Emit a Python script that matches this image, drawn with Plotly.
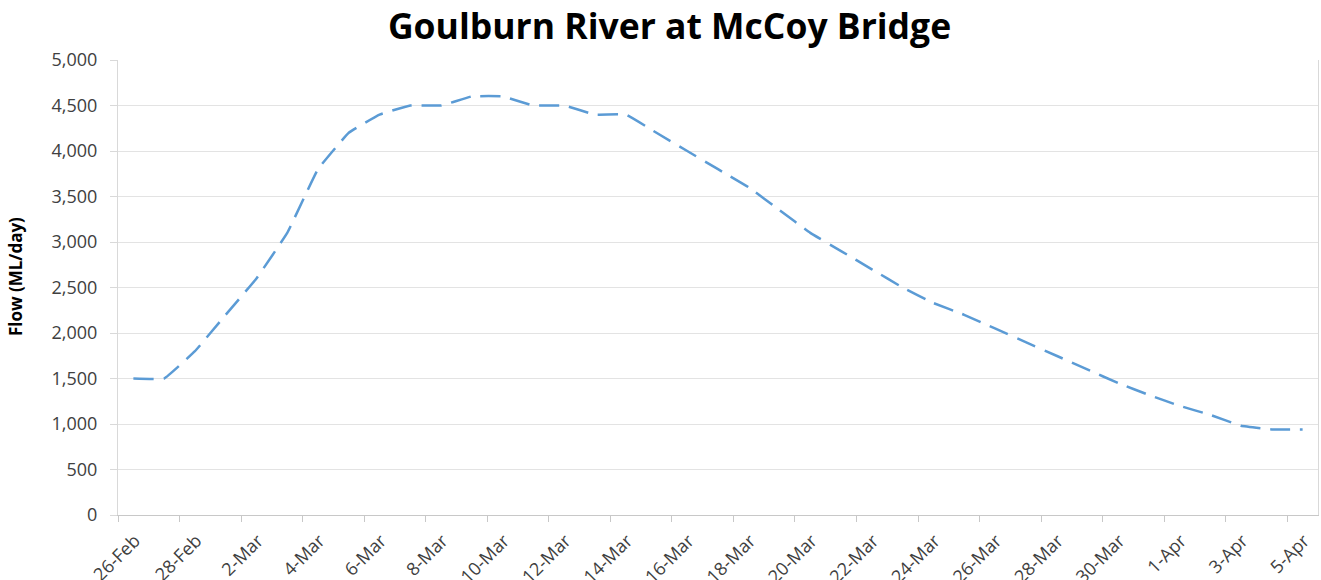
import plotly.graph_objects as go

# Daily categories (26-Feb .. 5-Apr)
dates = ["26-Feb", "27-Feb", "28-Feb",
         "1-Mar", "2-Mar", "3-Mar", "4-Mar", "5-Mar", "6-Mar", "7-Mar", "8-Mar", "9-Mar", "10-Mar",
         "11-Mar", "12-Mar", "13-Mar", "14-Mar", "15-Mar", "16-Mar", "17-Mar", "18-Mar", "19-Mar", "20-Mar",
         "21-Mar", "22-Mar", "23-Mar", "24-Mar", "25-Mar", "26-Mar", "27-Mar", "28-Mar", "29-Mar", "30-Mar",
         "31-Mar", "1-Apr", "2-Apr", "3-Apr", "4-Apr", "5-Apr"]

flow = [1500, 1500, 1800, 2200, 2600, 3100, 3800, 4200, 4400, 4500,
        4500, 4600, 4600, 4500, 4500, 4400, 4400, 4200, 4000, 3800,
        3600, 3350, 3100, 2900, 2700, 2500, 2330, 2200, 2050, 1900,
        1750, 1600, 1450, 1320, 1200, 1100, 980, 940, 940]

tick_labels = ["26-Feb", "28-Feb", "2-Mar", "4-Mar", "6-Mar", "8-Mar", "10-Mar", "12-Mar",
               "14-Mar", "16-Mar", "18-Mar", "20-Mar", "22-Mar", "24-Mar", "26-Mar", "28-Mar",
               "30-Mar", "1-Apr", "3-Apr", "5-Apr"]

y_ticks = [0, 500, 1000, 1500, 2000, 2500, 3000, 3500, 4000, 4500, 5000]

# category index -> plotted at the centre of its slot
xpos = [dates.index(d) + 0.5 for d in dates]
label_pos = [dates.index(t) + 0.55 for t in tick_labels]
boundaries = [dates.index(t) for t in tick_labels]

fig = go.Figure()
fig.add_trace(go.Scatter(
    x=xpos, y=flow, mode="lines",
    line=dict(color="#5B9BD5", width=2.5, dash="20px,10px", shape="spline", smoothing=0.25),
    hoverinfo="skip", showlegend=False,
))

fig.update_layout(
    width=1321, height=580,
    margin=dict(l=118, r=3, t=60, b=65),
    paper_bgcolor="white", plot_bgcolor="white",
    font=dict(family="Open Sans, sans-serif", color="#595959", size=17),
    title=dict(text="<b>Goulburn River at McCoy Bridge</b>",
               font=dict(family="Open Sans, sans-serif", size=35.5, color="#000000"),
               x=669.5 / 1321, xanchor="center", xref="container",
               y=1 - 27 / 580, yanchor="middle", yref="container"),
    showlegend=False,
)

fig.update_xaxes(
    range=[0, len(dates)], automargin=False,
    tickmode="array", tickvals=label_pos, ticktext=tick_labels,
    tickangle=-45, ticks="", ticklabelstandoff=7,
    minor=dict(tickmode="array", tickvals=boundaries, ticks="outside",
               ticklen=6, tickcolor="#c8c8c8", tickwidth=1, showgrid=False),
    showgrid=False, zeroline=False,
    showline=True, linecolor="#c8c8c8", linewidth=1,
    tickfont=dict(size=18, color="#404040"),
)

fig.update_yaxes(
    range=[0, 5000], automargin=False,
    tickmode="array", tickvals=y_ticks,
    tickformat=",d",
    ticks="outside", ticklen=7, tickcolor="#d9d9d9",
    ticklabelstandoff=9,
    showgrid=True, gridcolor="#e3e3e3", gridwidth=1,
    zeroline=False,
    showline=True, linecolor="#d9d9d9", linewidth=1, mirror=True,
    tickfont=dict(size=18, color="#404040"),
)

fig.add_annotation(
    text="<b>Flow (ML/day)</b>", textangle=-90,
    xref="paper", yref="paper", x=-(118 - 15) / 1200, y=0.523,
    xanchor="center", yanchor="middle", showarrow=False,
    font=dict(family="Open Sans, sans-serif", size=17, color="#000000"),
)

fig.write_html("out.html", config={"displayModeBar": False},
               post_script="document.body.style.margin='0';")
